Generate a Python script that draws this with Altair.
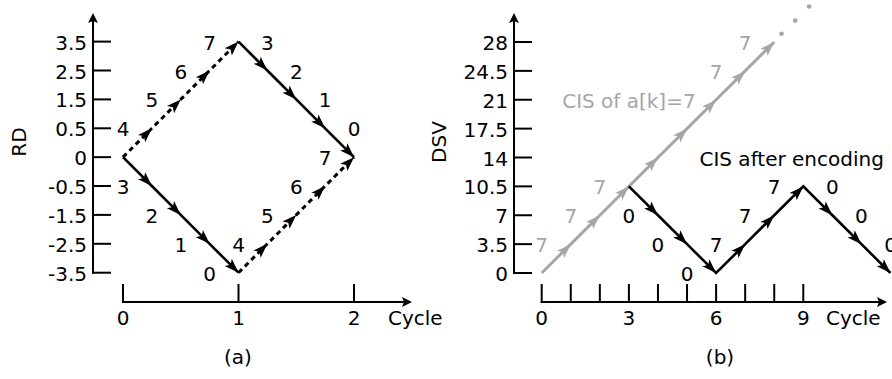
import altair as alt
import pandas as pd

FONT = "DejaVu Sans"
FONT_SIZE = 20
INK = "#000000"
GRAY = "#a6a6a6"

# Stealth arrowhead with its tip on the symbol origin; points up at angle 0
ARROW = "M0,0L0.7,2L0,1.55L-0.7,2Z"
AXIS_ARROW = "M0,0L1,2L0,1.6L-1,2Z"

# ---------- (a) running digital sum (RD) over two coding cycles ----------
rd_ticks = [3.5, 2.5, 1.5, 0.5, 0, -0.5, -1.5, -2.5, -3.5]
rd_tick_labels = ["3.5", "2.5", "1.5", "0.5", "0", "-0.5", "-1.5", "-2.5", "-3.5"]
a_cycle_ticks = [0, 1, 2]

a_cycle_first = [0, 0.25, 0.5, 0.75, 1]
a_cycle_second = [1, 1.25, 1.5, 1.75, 2]
rd_falling_first = [0, -0.5, -1.5, -2.5, -3.5]
rd_rising_first = [0, 0.5, 1.5, 2.5, 3.5]
rd_falling_second = [3.5, 2.5, 1.5, 0.5, 0]
rd_rising_second = [-3.5, -2.5, -1.5, -0.5, 0]
symbols_falling = ["3", "2", "1", "0"]
symbols_rising = ["4", "5", "6", "7"]

# ---------- (b) DSV of a constant input vs. the encoded sequence ----------
dsv_ticks = [0, 3.5, 7, 10.5, 14, 17.5, 21, 24.5, 28]
dsv_tick_labels = ["0", "3.5", "7", "10.5", "14", "17.5", "21", "24.5", "28"]
b_cycle_ticks = [0, 1, 2, 3, 4, 5, 6, 7, 8, 9]
b_cycle_labels = [0, 3, 6, 9]

cis7_cycle = [0, 1, 2, 3, 4, 5, 6, 7, 8]
cis7_dsv = [0, 3.5, 7, 10.5, 14, 17.5, 21, 24.5, 28]
cis7_symbols = ["7", "7", "7", "7", "7", "7", "7", "7"]
cis7_labelled = [True, True, True, False, False, False, True, True]
cis7_more_cycle = [8.25, 8.72, 9.2]
cis7_more_dsv = [29.0, 30.6, 32.3]

enc_cycle = [3, 4, 5, 6, 7, 8, 9, 10, 11, 12]
enc_dsv = [10.5, 7, 3.5, 0, 3.5, 7, 10.5, 7, 3.5, 0]
enc_symbols = ["0", "0", "0", "7", "7", "7", "0", "0", "0"]

# ---------- scales (RD axis is spaced evenly per tick, i.e. piecewise) ----------
XA = alt.Scale(domain=[0, 2], range=[123, 354], nice=False, zero=False)
YA = alt.Scale(domain=[-3.5, -0.5, 0.5, 3.5], range=[272.7, 186.0, 128.3, 41.6],
               nice=False, zero=False)
XB = alt.Scale(domain=[0, 9], range=[541.7, 803.3], nice=False, zero=False)
YB = alt.Scale(domain=[0, 28], range=[273, 42], nice=False, zero=False)


def qx(field, scale):
    return alt.X(field, type="quantitative", scale=scale, axis=None)


def qy(field, scale):
    return alt.Y(field, type="quantitative", scale=scale, axis=None)


def path_tables(name, xs, ys, symbols, corners, shown=None):
    """Vertices of one path plus one row per step (arrow tip and symbol label)."""
    verts = pd.DataFrame({"path": name, "order": list(range(len(xs))), "x": xs, "y": ys})
    rows = []
    for i, sym in enumerate(symbols):
        x0, y0, x1, y1 = xs[i], ys[i], xs[i + 1], ys[i + 1]
        lx, ly = (x0, y1) if corners[i] == "lead" else (x1, y0)
        rows.append({"path": name, "x": x1, "y": y1,
                     "angle": 45 if y1 > y0 else 135,
                     "sym": sym, "lx": lx, "ly": ly,
                     "shown": True if shown is None else shown[i]})
    return verts, pd.DataFrame(rows)


def path_line(verts, xs, ys, color, width, dash=None):
    kw = dict(color=color, strokeWidth=width, strokeCap="butt", strokeJoin="miter")
    if dash:
        kw["strokeDash"] = dash
    return alt.Chart(verts).mark_line(**kw).encode(
        x=qx("x", xs), y=qy("y", ys),
        detail="path:N", order=alt.Order("order:Q"))


def arrowheads(steps, xs, ys, color):
    return alt.Chart(steps).mark_point(
        shape=ARROW, filled=True, size=210, color=color, opacity=1, strokeWidth=0
    ).encode(x=qx("x", xs), y=qy("y", ys), angle=alt.Angle("angle:Q", scale=None))


def step_labels(steps, xs, ys, color):
    steps = steps[steps["shown"]]
    return alt.Chart(steps).mark_text(
        font=FONT, fontSize=FONT_SIZE, color=color, align="center",
        baseline="middle", dy=2
    ).encode(x=qx("lx", xs), y=qy("ly", ys), text="sym:N")


def note(text, x, y, color=INK, align="center", angle=0):
    return alt.Chart(pd.DataFrame({"t": [text]})).mark_text(
        font=FONT, fontSize=FONT_SIZE, color=color, align=align,
        baseline="middle", dy=2, angle=angle
    ).encode(x=alt.value(x), y=alt.value(y), text="t:N")


def frame(xs, ys, y_axis_px, y_ticks, y_labels, x_ticks, x_labels, x_tip_px, cycle_px):
    layers = []
    one = pd.DataFrame({"k": [0]})
    rule = dict(color=INK, strokeWidth=2, strokeCap="square")
    # vertical spine up to the arrowhead
    layers.append(alt.Chart(pd.DataFrame({"v": [min(y_ticks)]})).mark_rule(**rule).encode(
        x=alt.value(y_axis_px), y=qy("v", ys), y2=alt.value(22)))
    layers.append(alt.Chart(one).mark_point(
        shape=AXIS_ARROW, filled=True, size=100, color=INK, opacity=1, strokeWidth=0
    ).encode(x=alt.value(y_axis_px), y=alt.value(13)))
    ytab = pd.DataFrame({"v": y_ticks, "t": y_labels})
    layers.append(alt.Chart(ytab).mark_rule(**rule).encode(
        y=qy("v", ys), x=alt.value(y_axis_px), x2=alt.value(y_axis_px + 17)))
    layers.append(alt.Chart(ytab).mark_text(
        font=FONT, fontSize=FONT_SIZE, color=INK, align="right", baseline="middle", dy=2
    ).encode(y=qy("v", ys), x=alt.value(y_axis_px - 6), text="t:N"))
    # horizontal cycle axis
    layers.append(alt.Chart(pd.DataFrame({"c": [min(x_ticks)]})).mark_rule(**rule).encode(
        x=qx("c", xs), x2=alt.value(x_tip_px - 8), y=alt.value(302)))
    layers.append(alt.Chart(one).mark_point(
        shape=AXIS_ARROW, filled=True, size=100, color=INK, opacity=1, strokeWidth=0,
        angle=90
    ).encode(x=alt.value(x_tip_px), y=alt.value(302)))
    layers.append(alt.Chart(pd.DataFrame({"c": x_ticks})).mark_rule(**rule).encode(
        x=qx("c", xs), y=alt.value(285), y2=alt.value(302)))
    layers.append(alt.Chart(pd.DataFrame({"c": x_labels, "t": [str(v) for v in x_labels]})).mark_text(
        font=FONT, fontSize=FONT_SIZE, color=INK, align="center", baseline="middle", dy=2
    ).encode(x=qx("c", xs), y=alt.value(317), text="t:N"))
    layers.append(note("Cycle", cycle_px, 317, align="left"))
    return layers


# ---------- panel (a) ----------
v1, s1 = path_tables("solid_first", a_cycle_first, rd_falling_first, symbols_falling, ["lead"] * 4)
v2, s2 = path_tables("dotted_first", a_cycle_first, rd_rising_first, symbols_rising, ["lead"] * 4)
v3, s3 = path_tables("solid_second", a_cycle_second, rd_falling_second, symbols_falling, ["trail"] * 4)
v4, s4 = path_tables("dotted_second", a_cycle_second, rd_rising_second, symbols_rising, ["lead"] * 4)
a_steps = pd.concat([s1, s2, s3, s4], ignore_index=True)

panel_a = alt.layer(
    *frame(XA, YA, 93, rd_ticks, rd_tick_labels, a_cycle_ticks, a_cycle_ticks, 412, 388),
    path_line(pd.concat([v1, v3]), XA, YA, INK, 2.6),
    path_line(pd.concat([v2, v4]), XA, YA, INK, 3, dash=[5, 4]),
    arrowheads(a_steps, XA, YA, INK),
    step_labels(a_steps, XA, YA, INK),
    note("RD", 18, 142, angle=270),
    note("(a)", 238, 356),
)

# ---------- panel (b) ----------
gv, gs = path_tables("cis7", cis7_cycle, cis7_dsv, cis7_symbols, ["lead"] * 8, cis7_labelled)
ev, es = path_tables("encoded", enc_cycle, enc_dsv, enc_symbols, ["lead"] * 6 + ["trail"] * 3)
more = pd.DataFrame({"x": cis7_more_cycle, "y": cis7_more_dsv})
cis_notes = pd.DataFrame({"x": [3, 8.6], "y": [21, 14],
                          "t": ["CIS of a[k]=7", "CIS after encoding"],
                          "c": [GRAY, INK]})

panel_b = alt.layer(
    *frame(XB, YB, 514, dsv_ticks, dsv_tick_labels, b_cycle_ticks, b_cycle_labels, 887, 826),
    path_line(gv, XB, YB, GRAY, 3),
    alt.Chart(more).mark_circle(size=22, color=GRAY, opacity=1).encode(
        x=qx("x", XB), y=qy("y", YB)),
    arrowheads(gs, XB, YB, GRAY),
    step_labels(gs, XB, YB, GRAY),
    path_line(ev, XB, YB, INK, 2.6),
    arrowheads(es, XB, YB, INK),
    step_labels(es, XB, YB, INK),
    alt.Chart(cis_notes).mark_text(
        font=FONT, fontSize=FONT_SIZE, align="center", baseline="middle", dy=2
    ).encode(x=qx("x", XB), y=qy("y", YB), text="t:N",
             color=alt.Color("c:N", scale=None)),
    note("DSV", 438, 142, angle=270),
    note("(b)", 720, 356),
)

chart = (
    alt.layer(panel_a, panel_b)
    .resolve_scale(x="independent", y="independent")
    .properties(width=892, height=379, padding=0,
                autosize=alt.AutoSizeParams(type="none"), background="white")
    .configure_view(stroke=None)
)

chart.save("out.html", embed_options={"renderer": "svg", "actions": False})
